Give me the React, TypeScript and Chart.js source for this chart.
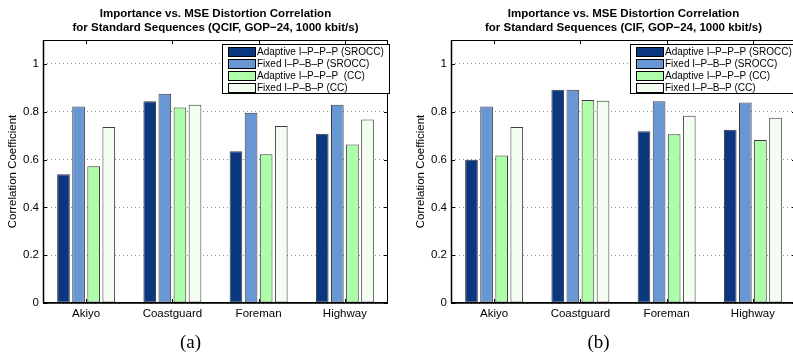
import React, { useEffect, useRef } from 'react';
import { Chart, registerables } from 'chart.js';

Chart.register(...registerables);

const FONT = "'Liberation Sans', Arial, Helvetica, sans-serif";
const SERIF = "'Liberation Serif', 'DejaVu Serif', serif";

const categories = ['Akiyo', 'Coastguard', 'Foreman', 'Highway'];
const seriesColors = ['#0b3680', '#6897d4', '#aefdaa', '#f4fdf2'];

// QCIF sequences
const qcifAdaptiveSrocc = [0.539, 0.844, 0.635, 0.708];
const qcifFixedSrocc = [0.822, 0.875, 0.796, 0.829];
const qcifAdaptiveCc = [0.572, 0.818, 0.622, 0.663];
const qcifFixedCc = [0.736, 0.829, 0.74, 0.767];

// CIF sequences
const cifAdaptiveSrocc = [0.599, 0.892, 0.718, 0.725];
const cifFixedSrocc = [0.822, 0.892, 0.844, 0.839];
const cifAdaptiveCc = [0.617, 0.849, 0.706, 0.682];
const cifFixedCc = [0.736, 0.846, 0.783, 0.775];

const qcifLegend = [
  'Adaptive I\u2013P\u2013P\u2013P (SROCC)',
  'Fixed I\u2013P\u2013B\u2013P (SROCC)',
  'Adaptive I\u2013P\u2013P\u2013P  (CC)',
  'Fixed I\u2013P\u2013B\u2013P (CC)',
];
const cifLegend = [
  'Adaptive I\u2013P\u2013P\u2013P (SROCC)',
  'Fixed I\u2013P\u2013B\u2013P (SROCC)',
  'Adaptive I\u2013P\u2013P\u2013P (CC)',
  'Fixed I\u2013P\u2013B\u2013P (CC)',
];

const qcifTitle = [
  'Importance vs. MSE Distortion Correlation',
  'for Standard Sequences (QCIF, GOP\u221224, 1000 kbit/s)',
];
const cifTitle = [
  'Importance vs. MSE Distortion Correlation',
  'for Standard Sequences (CIF, GOP\u221224, 1000 kbit/s)',
];

const yTicks = [0, 0.2, 0.4, 0.6, 0.8, 1];
const yMax = 1.1;
const yLabel = 'Correlation Coefficient';

const CANVAS_W = 400;
const CANVAS_H = 356;

// Draws the axes box, inward ticks, titles, axis label, boxed legend and caption
const decorPlugin = {
  id: 'decor',
  afterDraw(chart: any, _args: any, opts: any) {
    const { ctx, chartArea: a, scales } = chart;
    ctx.save();

    // inward tick marks
    ctx.strokeStyle = '#000';
    ctx.lineWidth = 1;
    ctx.beginPath();
    for (const v of yTicks) {
      const py = Math.round(scales.y.getPixelForValue(v)) + 0.5;
      ctx.moveTo(a.left, py);
      ctx.lineTo(a.left + 4, py);
      ctx.moveTo(a.right, py);
      ctx.lineTo(a.right - 4, py);
    }
    categories.forEach((_c, i) => {
      const px = Math.round(scales.x.getPixelForValue(i)) + 0.5;
      ctx.moveTo(px, a.bottom);
      ctx.lineTo(px, a.bottom - 4);
      ctx.moveTo(px, a.top);
      ctx.lineTo(px, a.top + 4);
    });
    ctx.stroke();

    // axes box
    ctx.lineWidth = 1;
    ctx.strokeRect(a.left + 0.5, a.top + 0.5, a.right - a.left - 1, a.bottom - a.top - 1);
    ctx.lineWidth = 1.5;
    ctx.beginPath();
    ctx.moveTo(a.left, a.bottom);
    ctx.lineTo(a.right, a.bottom);
    ctx.moveTo(a.left + 0.5, a.top);
    ctx.lineTo(a.left + 0.5, a.bottom);
    ctx.stroke();

    // title
    ctx.fillStyle = '#000';
    ctx.textAlign = 'center';
    ctx.textBaseline = 'middle';
    ctx.font = `bold 11.5px ${FONT}`;
    const cx = (a.left + a.right) / 2;
    ctx.fillText(opts.title[0], cx, 14);
    ctx.fillText(opts.title[1], cx, 28);

    // y axis label
    ctx.save();
    ctx.font = `11.5px ${FONT}`;
    ctx.translate(13, (a.top + a.bottom) / 2);
    ctx.rotate(-Math.PI / 2);
    ctx.fillText(yLabel, 0, 0);
    ctx.restore();

    // legend
    ctx.font = `10px ${FONT}`;
    const labels: string[] = opts.legend;
    const textW = Math.max(...labels.map((l) => ctx.measureText(l).width));
    const boxW = Math.round(35 + textW + 5);
    const boxH = 49;
    const boxL = a.right + 1 - boxW;
    const boxT = a.top + 4;
    ctx.fillStyle = '#fff';
    ctx.fillRect(boxL, boxT, boxW, boxH);
    ctx.strokeStyle = '#000';
    ctx.lineWidth = 1;
    ctx.strokeRect(boxL + 0.5, boxT + 0.5, boxW, boxH);
    ctx.textAlign = 'left';
    labels.forEach((l, i) => {
      const rowY = boxT + 7 + 12 * i;
      ctx.fillStyle = seriesColors[i];
      ctx.fillRect(boxL + 6, rowY - 4, 27, 9);
      ctx.strokeRect(boxL + 6.5, rowY - 3.5, 27, 9);
      ctx.fillStyle = '#000';
      ctx.fillText(l, boxL + 35, rowY + 1);
    });

    // caption
    ctx.font = `19px ${SERIF}`;
    ctx.textAlign = 'center';
    ctx.fillText(opts.caption, cx - 25, 343);

    ctx.restore();
  },
};

function BarPanel(props: { series: number[][]; title: string[]; legend: string[]; caption: string; left: number }) {
  const ref = useRef<HTMLCanvasElement | null>(null);

  useEffect(() => {
    if (!ref.current) return;
    const chart = new Chart(ref.current, {
      type: 'bar',
      data: {
        labels: categories,
        datasets: props.series.map((values, i) => ({
          label: props.legend[i],
          data: values,
          backgroundColor: seriesColors[i],
          borderColor: '#3c3c3c',
          borderWidth: 1,
          borderSkipped: false,
          barPercentage: 0.84,
          categoryPercentage: 0.7,
        })),
      },
      options: {
        responsive: false,
        animation: false,
        events: [],
        layout: { padding: { top: 40, right: CANVAS_W - 388, left: 0, bottom: 0 } },
        plugins: {
          legend: { display: false },
          tooltip: { enabled: false },
          decor: { title: props.title, legend: props.legend, caption: props.caption },
        } as any,
        scales: {
          x: {
            offset: true,
            grid: { display: false, drawTicks: false },
            border: { display: false },
            ticks: { color: '#000', font: { family: FONT, size: 11.5 }, padding: 4, maxRotation: 0 },
            afterFit: (s: any) => {
              s.height = 53;
            },
          },
          y: {
            min: 0,
            max: yMax,
            afterBuildTicks: (s: any) => {
              s.ticks = yTicks.map((v) => ({ value: v }));
            },
            grid: { color: '#8a8a8a', lineWidth: 1, drawTicks: false },
            border: { display: false, dash: [1, 3] },
            ticks: {
              color: '#000',
              font: { family: FONT, size: 11.5 },
              padding: 4,
              callback: (v: any) => String(v),
            },
            afterFit: (s: any) => {
              s.width = 43;
            },
          },
        },
      },
      plugins: [decorPlugin],
    });
    return () => chart.destroy();
  }, []);

  return (
    <canvas
      ref={ref}
      width={CANVAS_W}
      height={CANVAS_H}
      style={{ position: 'absolute', left: props.left, top: 0, width: CANVAS_W, height: CANVAS_H }}
    />
  );
}

export default function App() {
  useEffect(() => {
    document.body.style.margin = '0';
  }, []);
  return (
    <div style={{ position: 'relative', width: 793, height: 356, overflow: 'hidden', background: '#fff' }}>
      <BarPanel
        series={[qcifAdaptiveSrocc, qcifFixedSrocc, qcifAdaptiveCc, qcifFixedCc]}
        title={qcifTitle}
        legend={qcifLegend}
        caption="(a)"
        left={0}
      />
      <BarPanel
        series={[cifAdaptiveSrocc, cifFixedSrocc, cifAdaptiveCc, cifFixedCc]}
        title={cifTitle}
        legend={cifLegend}
        caption="(b)"
        left={408}
      />
    </div>
  );
}
